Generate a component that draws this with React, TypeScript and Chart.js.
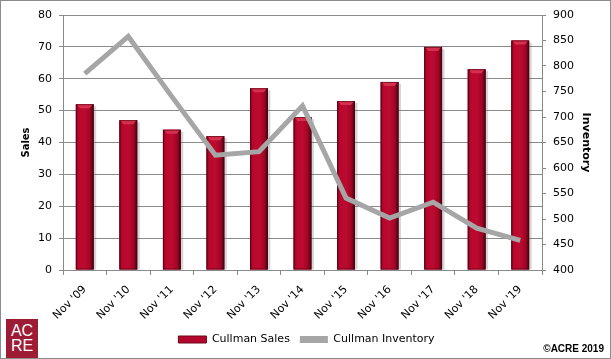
import React, { useEffect, useRef } from "react";
import { Chart, registerables } from "chart.js";

Chart.register(...registerables);

const categories = ["Nov '09", "Nov '10", "Nov '11", "Nov '12", "Nov '13", "Nov '14", "Nov '15", "Nov '16", "Nov '17", "Nov '18", "Nov '19"];
const salesValues = [52, 47, 44, 42, 57, 48, 53, 59, 70, 63, 72];
const inventoryValues = [785, 858, 740, 625, 632, 722, 541, 502, 533, 482, 458];
const salesLabel = "Cullman Sales";
const inventoryLabel = "Cullman Inventory";

const GRID = "#8a8a8a";

const barStylePlugin = {
  id: "barStyle",
  afterDatasetDraw(chart: any, args: any) {
    if (args.index !== 0) return;
    const ctx = chart.ctx;
    const meta = chart.getDatasetMeta(0);
    ctx.save();
    meta.data.forEach((el: any) => {
      const { x, y, base, width } = el.getProps(["x", "y", "base", "width"], true);
      const l = x - width / 2;
      const h = base - y;
      // shadow on right
      ctx.fillStyle = "rgba(120,120,120,0.3)";
      ctx.fillRect(l + width, y + 2, 2.5, h - 2);
      const g = ctx.createLinearGradient(l, 0, l + width, 0);
      g.addColorStop(0, "#6e0719");
      g.addColorStop(0.14, "#b8062c");
      g.addColorStop(0.5, "#bd0a30");
      g.addColorStop(0.8, "#a00525");
      g.addColorStop(1, "#420411");
      ctx.fillStyle = g;
      ctx.fillRect(l, y, width, h);
      // top bevel
      ctx.fillStyle = "#d6304f";
      ctx.beginPath();
      ctx.moveTo(l + 1, y);
      ctx.lineTo(l + width - 1, y);
      ctx.lineTo(l + width - 4, y + 4);
      ctx.lineTo(l + 4, y + 4);
      ctx.closePath();
      ctx.fill();
      ctx.strokeStyle = "rgba(70,5,15,0.6)";
      ctx.lineWidth = 1;
      ctx.strokeRect(l + 0.5, y + 0.5, width - 1, h - 1);
    });
    ctx.restore();
  },
};

export default function App() {
  const canvasRef = useRef<HTMLCanvasElement>(null);

  useEffect(() => {
    document.body.style.margin = "0";
    const canvas = canvasRef.current!;
    Chart.defaults.font.family = "'DejaVu Sans', sans-serif";
    Chart.defaults.color = "#000";
    const chart = new Chart(canvas, {
      type: "bar",
      data: {
        labels: categories,
        datasets: [
          {
            type: "bar",
            label: salesLabel,
            data: salesValues,
            backgroundColor: "#b4062c",
            borderColor: "#6a0818",
            borderWidth: 0,
            categoryPercentage: 0.82,
            barPercentage: 0.5,
            yAxisID: "y",
            order: 2,
          },
          {
            type: "line",
            label: inventoryLabel,
            data: inventoryValues,
            borderColor: "#a6a6a6",
            backgroundColor: "#a6a6a6",
            borderWidth: 5,
            pointRadius: 0,
            tension: 0,
            yAxisID: "y1",
            order: 1,
          },
        ],
      },
      options: {
        responsive: false,
        animation: false,
        layout: { padding: { left: 8, right: 6, top: 15, bottom: 4 } },
        plugins: {
          tooltip: { enabled: false },
          legend: {
            position: "bottom",
            labels: {
              boxWidth: 28,
              boxHeight: 7,
              padding: 10,
              font: { size: 11 },
              color: "#000",
              generateLabels() {
                return [
                  { text: salesLabel, fillStyle: "#b4062c", strokeStyle: "#6a0818", lineWidth: 1, datasetIndex: 0, hidden: false },
                  { text: inventoryLabel, fillStyle: "#a6a6a6", strokeStyle: "#a6a6a6", lineWidth: 0, datasetIndex: 1, hidden: false },
                ];
              },
            },
          },
        },
        scales: {
          x: {
            grid: { offset: true, drawOnChartArea: false, color: GRID, tickLength: 5 },
            border: { color: GRID },
            ticks: { maxRotation: 45, minRotation: 45, font: { size: 11 }, color: "#000", padding: 8 },
            afterFit(scale: any) {
              scale.height = 54;
            },
          },
          y: {
            position: "left",
            min: 0,
            max: 80,
            ticks: { stepSize: 10, font: { size: 11 }, color: "#000", padding: 7 },
            grid: { color: GRID, tickLength: 4 },
            border: { color: GRID },
            title: { display: true, text: "Sales", font: { size: 10, weight: "bold" }, color: "#000", padding: { top: 12, bottom: 0 } },
            afterFit(scale: any) {
              scale.width = 55;
            },
          },
          y1: {
            position: "right",
            min: 400,
            max: 900,
            ticks: { stepSize: 50, font: { size: 11 }, color: "#000", padding: 7 },
            grid: { drawOnChartArea: false, color: GRID, tickLength: 4 },
            border: { color: GRID },
            title: { display: true, text: "Inventory", font: { size: 11, weight: "bold" }, color: "#000", padding: { top: 13, bottom: 0 } },
            afterFit(scale: any) {
              scale.width = 63;
            },
          },
        },
      },
      plugins: [barStylePlugin],
    } as any);
    return () => chart.destroy();
  }, []);

  return (
    <div style={{ position: "relative", width: 611, height: 359, background: "#fff", overflow: "hidden" }}>
      <canvas ref={canvasRef} width={611} height={359} style={{ display: "block" }} />
      <div
        style={{
          position: "absolute",
          left: 6,
          top: 319,
          width: 32,
          height: 40,
          background: "#9e1b34",
          color: "#fff",
          fontFamily: "'Liberation Sans', Arial, sans-serif",
          fontSize: 16,
          lineHeight: "15px",
          paddingTop: 4,
          boxSizing: "border-box",
          textAlign: "center",
        }}
      >
        <div>AC</div>
        <div>RE</div>
      </div>
      <div
        style={{
          position: "absolute",
          right: 7,
          top: 343,
          fontFamily: "'Liberation Sans', Arial, sans-serif",
          fontWeight: "bold",
          fontSize: 10,
          lineHeight: "12px",
          color: "#000",
        }}
      >
        ©ACRE 2019
      </div>
      <div
        style={{
          position: "absolute",
          left: 0,
          top: 0,
          width: 611,
          height: 359,
          border: "1px solid #8c8c8c",
          boxSizing: "border-box",
          pointerEvents: "none",
        }}
      />
    </div>
  );
}
